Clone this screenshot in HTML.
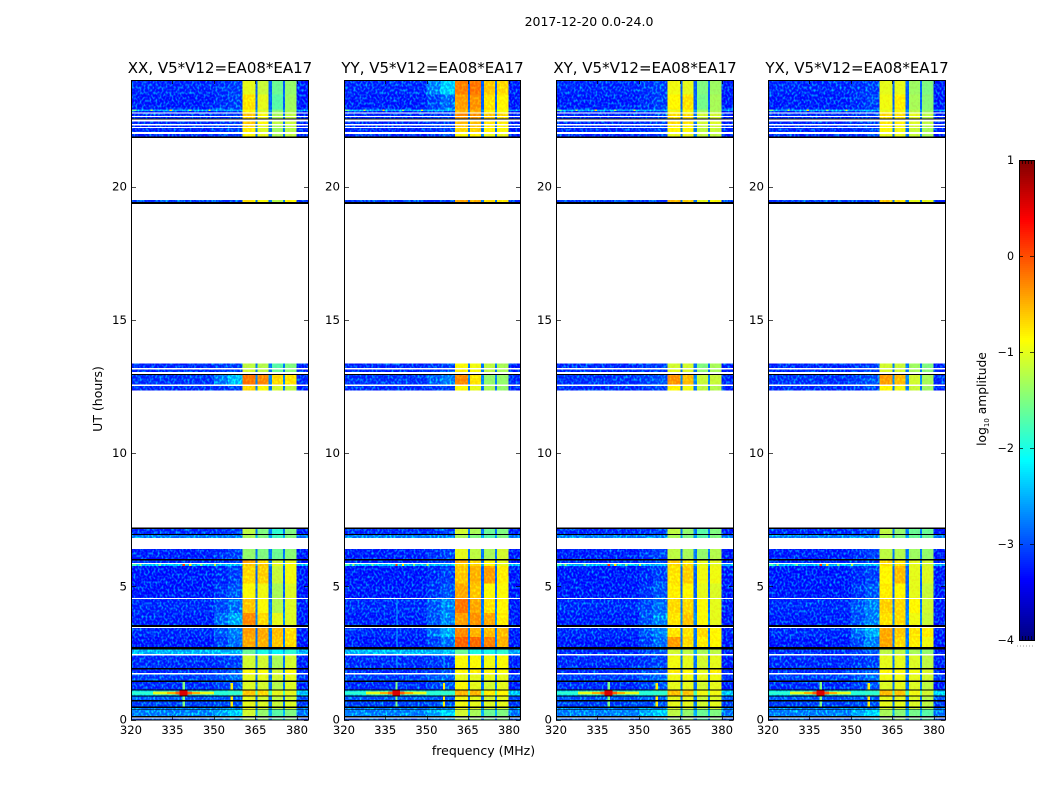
<!DOCTYPE html>
<html>
<head>
<meta charset="utf-8">
<title>2017-12-20 0.0-24.0</title>
<style>
html,body{margin:0;padding:0;background:#fff;}
svg{display:block;font-family:"DejaVu Sans","Liberation Sans",sans-serif;}
</style>
</head>
<body>
<svg id="figure" xmlns="http://www.w3.org/2000/svg" width="1050" height="800" viewBox="0 0 1050 800">
  <defs>
    <filter id="bgNoise" filterUnits="userSpaceOnUse" x="0" y="0" width="1050" height="800" color-interpolation-filters="sRGB">
      <feColorMatrix in="SourceGraphic" type="matrix" values="1 0 0 0 0  0 1 0 0 -0.16  0 0 1 0 0  0 0 0 1 0" result="base"/>
      <feTurbulence type="fractalNoise" baseFrequency="0.5 0.38" numOctaves="1" seed="7" result="turb"/>
      <feColorMatrix in="turb" type="matrix" values="0 0 0 0 0  1.8 0 0 0 -0.78  0 0 0 0 0  0 0 0 0 1" result="speck"/>
      <feComposite in="speck" in2="SourceAlpha" operator="in" result="clipped"/>
      <feComposite in="base" in2="clipped" operator="arithmetic" k1="0" k2="1" k3="1" k4="0"/>
    </filter>
    <filter id="bandNoise" filterUnits="userSpaceOnUse" x="0" y="0" width="1050" height="800" color-interpolation-filters="sRGB">
      <feColorMatrix in="SourceGraphic" type="matrix" values="1 0 0 0 0  0 1 0 0 -0.05  0 0 1 0 0  0 0 0 1 0" result="base"/>
      <feTurbulence type="fractalNoise" baseFrequency="0.5 0.38" numOctaves="1" seed="21" result="turb"/>
      <feColorMatrix in="turb" type="matrix" values="0 0 0 0 0  0.6 0 0 0 -0.25  0 0 0 0 0  0 0 0 0 1" result="speck"/>
      <feComposite in="speck" in2="SourceAlpha" operator="in" result="clipped"/>
      <feComposite in="base" in2="clipped" operator="arithmetic" k1="0" k2="1" k3="1" k4="0"/>
    </filter>
  </defs>
  <text x="589" y="26" font-size="12.5" text-anchor="middle">2017-12-20 0.0-24.0</text>
  <text transform="translate(102,399) rotate(-90)" font-size="12.5" text-anchor="middle">UT (hours)</text>
  <text x="483.5" y="755" font-size="12.5" text-anchor="middle">frequency (MHz)</text>
  <text transform="translate(986,399) rotate(-90)" font-size="12.3" text-anchor="middle">log<tspan font-size="7" dy="3">10</tspan><tspan dy="-3"> amplitude</tspan></text>
</svg>
<script>
// ---- chart data (log10 amplitude levels) ----
const panelTitles = ['XX, V5*V12=EA08*EA17','YY, V5*V12=EA08*EA17','XY, V5*V12=EA08*EA17','YX, V5*V12=EA08*EA17'];
const xTicks = [320,335,350,365,380];
const yTicks = [0,5,10,15,20];
const colorbarTicks = [1,0,-1,-2,-3,-4];
const freqEdges = [320,350,355,360.4,365.1,365.8,369.8,370.9,374.9,375.6,379.9,384];

const utStart = [23.45,22.89,22.83,22.78,22.65,22.55,22.35,22.23,22.05,21.88,19.42,13.20,13.05,12.58,12.34,6.96,6.82,6.02,5.87,5.77,5.10,4.56,4.00,3.54,3.10,2.72,2.46,1.93,1.74,1.46,1.12,0.90,0.73,0.49,0.37,0.13,0.00];
const utEnd   = [24.00,23.45,22.89,22.83,22.74,22.61,22.44,22.29,22.20,21.97,19.50,13.36,13.14,12.92,12.52,7.14,6.92,6.39,5.96,5.83,5.77,5.10,4.52,4.00,3.43,3.10,2.62,2.40,1.87,1.69,1.41,1.09,0.86,0.67,0.43,0.37,0.04];
const bgParallel = [-3.1,-3.15,-2.5,-3.1,-3.1,-3.1,-3.1,-3.1,-3.1,-3.1,-3.0,-3.1,-3.1,-3.05,-3.1,-3.1,-2.7,-3.15,-3.1,-2.4,-3.2,-3.2,-3.1,-3.15,-3.1,-3.2,-2.45,-3.1,-3.1,-3.0,-3.1,-2.3,-2.9,-3.0,-2.7,-2.7,-2.9];
const bgCross    = [-3.1,-3.15,-2.5,-3.1,-3.1,-3.1,-3.1,-3.1,-3.1,-3.1,-3.0,-3.1,-3.1,-3.05,-3.1,-3.1,-2.7,-3.15,-3.1,-2.4,-3.2,-3.2,-3.1,-3.15,-3.1,-3.2,-3.1,-3.1,-3.1,-3.0,-3.1,-2.3,-2.9,-3.0,-2.7,-2.7,-2.9];
const gapLevels = [-2.9,-2.9,-2.6,-2.8,-2.8,-2.8,-2.8,-2.8,-2.8,-2.8,-2.8,-2.8,-2.8,-2.7,-2.8,-2.8,-2.6,-2.8,-2.8,-2.5,-2.9,-2.9,-2.8,-2.7,-2.8,-2.8,-2.5,-2.8,-2.8,-2.8,-2.8,-1.8,-2.8,-2.8,-2.7,-2.5,-2.8];
const panelBg = [bgParallel,bgParallel,bgCross,bgCross];

const levelsXX = [[-3.0,-1.0,-1.15,-1.6,-1.4],[-3.0,-0.75,-1.0,-1.7,-1.35],[-2.5,-0.9,-1.1,-1.5,-1.3],[-3,-0.8,-1,-1.4,-1.3],[-3,-0.6,-0.9,-1.3,-1.2],[-3,-0.7,-0.95,-1.3,-1.2],[-3,-0.6,-0.85,-1.2,-1.15],[-3,-0.7,-1,-1.3,-1.2],[-3,-0.8,-1.05,-1.35,-1.25],[-3,-0.9,-1,-1.3,-1.2],[-3,-0.75,-0.9,-1.25,-0.85],[-3,-1.2,-1.25,-1.7,-1.5],[-3,-1.1,-1.2,-1.6,-1.45],[-2.4,-0.2,-0.3,-0.7,-0.75],[-3,-0.7,-0.9,-1.1,-1.2],[-3,-1.2,-1.5,-1.9,-1.5],[-2.7,-1.3,-1.5,-1.8,-1.5],[-3.0,-1.4,-1.5,-1.6,-1.45],[-3,-0.45,-0.7,-1.1,-1],[-2.4,-0.6,-0.6,-1.0,-0.9],[-3,-0.7,-0.65,-1.15,-0.95],[-2.9,-0.9,-0.95,-1.3,-1.05],[-2.8,-0.6,-0.9,-1.25,-1.05],[-2.5,-0.3,-0.7,-1.0,-1.05],[-2.7,-0.4,-0.45,-0.55,-0.7],[-2.8,-0.45,-0.5,-0.6,-0.7],[-2.4,-1.6,-2.0,-2.1,-1.9],[-3.0,-1.1,-1.1,-1.3,-1.1],[-2.9,-0.9,-0.9,-1.1,-0.9],[-2.8,-1.0,-1.0,-1.1,-1.0],[-2.9,-1.05,-1.1,-1.25,-1.05],[-1.8,-0.6,-0.7,-1.0,-1.0],[-2.9,-1.0,-1.1,-1.2,-1.1],[-2.9,-1,-1.05,-1.15,-1.05],[-2.7,-1.0,-1.1,-1.2,-1.1],[-2.3,-1.1,-1.4,-1.7,-1.5],[-2.5,-1.3,-1.4,-1.7,-1.5]];
const levelsYY = [[-2.3,-0.25,-0.2,-0.6,-0.7],[-2.8,-0.4,-0.35,-0.75,-0.85],[-2.4,-0.5,-0.45,-0.8,-0.9],[-3,-0.5,-0.5,-0.8,-0.9],[-3,-0.3,-0.35,-0.6,-0.7],[-3,-0.4,-0.4,-0.65,-0.75],[-3,-0.55,-0.55,-0.75,-0.8],[-3,-0.6,-0.6,-0.8,-0.85],[-3,-0.7,-0.65,-0.85,-0.9],[-3,-0.9,-0.85,-1,-1],[-3,-0.4,-0.5,-0.75,-0.8],[-3,-0.9,-0.95,-1.2,-1.3],[-3,-0.8,-0.9,-1.2,-1.3],[-2.7,-0.3,-0.75,-1.4,-1.4],[-3,-0.9,-1,-1.3,-1.4],[-3,-1.1,-1.3,-1.6,-1.5],[-2.7,-1.3,-1.5,-1.7,-1.5],[-3,-1,-1.2,-1.3,-1.1],[-3,-0.5,-0.7,-0.9,-1],[-2.4,-0.7,-0.7,-0.9,-1],[-3,-0.6,-0.5,-0.4,-0.8],[-2.9,-0.45,-0.6,-0.9,-0.9],[-2.7,-0.2,-0.45,-0.75,-0.85],[-2.7,-0.4,-0.35,-0.45,-0.8],[-2.5,-0.3,-0.5,-0.55,-0.55],[-2.8,-0.1,-0.15,-0.25,-0.5],[-2.4,-1.6,-2,-2,-1.9],[-3,-0.9,-0.9,-0.95,-0.9],[-2.9,-0.85,-0.8,-0.9,-0.9],[-2.8,-1,-1,-1,-1],[-2.9,-0.9,-1,-1.1,-1],[-1.8,-0.5,-0.5,-0.8,-0.85],[-2.9,-0.95,-1,-1.1,-1],[-2.9,-0.95,-1,-1.05,-1],[-2.7,-1,-1.05,-1.15,-1.1],[-2.3,-1.1,-1.3,-1.6,-1.5],[-2.5,-1.3,-1.4,-1.6,-1.5]];
const levelsXY = [[-3.0,-0.95,-1.0,-1.5,-1.35],[-3.0,-0.85,-0.75,-1.55,-1.3],[-2.5,-1,-0.9,-1.4,-1.3],[-3,-0.9,-0.9,-1.3,-1.25],[-3,-0.7,-0.7,-1.1,-1.1],[-3,-0.75,-0.75,-1.15,-1.1],[-3,-0.7,-0.75,-1.1,-1.05],[-3,-0.8,-0.85,-1.15,-1.1],[-3,-0.85,-0.9,-1.2,-1.15],[-3,-1,-1,-1.2,-1.2],[-3,-0.55,-0.65,-1,-0.9],[-3,-1.1,-1.1,-1.5,-1.3],[-3,-1,-1.05,-1.4,-1.3],[-2.9,-0.35,-0.55,-1.15,-1.15],[-3,-0.85,-0.95,-1.2,-1.25],[-3,-1.2,-1.4,-1.7,-1.5],[-2.7,-1.3,-1.5,-1.7,-1.5],[-3,-1.2,-1.3,-1.4,-1.25],[-3,-0.6,-0.75,-1,-1],[-2.4,-0.7,-0.7,-1,-1],[-3,-0.75,-0.65,-0.95,-0.95],[-2.9,-0.8,-0.85,-1,-1.05],[-2.8,-0.7,-0.7,-0.9,-1],[-2.7,-0.75,-0.6,-0.9,-1],[-2.7,-0.75,-0.75,-0.7,-0.85],[-2.8,-0.4,-0.7,-0.8,-0.85],[-2.9,-1.1,-1.2,-1.3,-1.2],[-3,-0.95,-1,-1.1,-1],[-2.9,-0.8,-0.85,-1,-0.8],[-2.8,-0.95,-0.95,-1,-0.95],[-2.9,-1,-1,-1.1,-1],[-1.8,-0.55,-0.6,-0.95,-0.95],[-2.9,-1,-1,-1.15,-1.05],[-2.9,-1,-1,-1.1,-1],[-2.7,-1.1,-1.1,-1.2,-1.1],[-2.3,-1.2,-1.4,-1.6,-1.5],[-2.5,-1.4,-1.4,-1.7,-1.5]];
const levelsYX = [[-3.0,-1.0,-1.0,-1.35,-1.5],[-3.0,-0.95,-0.8,-1.3,-1.45],[-2.5,-1,-0.95,-1.25,-1.4],[-3,-0.95,-0.9,-1.2,-1.35],[-3,-0.7,-0.7,-1.0,-1.2],[-3,-0.75,-0.8,-1.05,-1.25],[-3,-0.75,-0.8,-1.05,-1.2],[-3,-0.85,-0.9,-1.1,-1.25],[-3,-0.9,-0.95,-1.15,-1.3],[-3,-1,-1,-1.15,-1.3],[-3,-0.6,-0.7,-1,-1],[-3,-1.1,-1.15,-1.35,-1.5],[-3,-1.05,-1.1,-1.3,-1.45],[-2.9,-0.4,-0.55,-1.1,-1.3],[-3,-0.85,-0.95,-1.15,-1.35],[-3,-1.2,-1.4,-1.6,-1.6],[-2.7,-1.3,-1.5,-1.6,-1.6],[-3,-1.2,-1.25,-1.35,-1.4],[-3,-0.65,-0.75,-1,-1.1],[-2.4,-0.75,-0.75,-1,-1.1],[-3,-0.85,-0.55,-1,-1.05],[-2.9,-0.8,-0.85,-1,-1.15],[-2.7,-0.65,-0.7,-0.85,-1.1],[-2.7,-0.75,-0.7,-0.95,-1.15],[-2.5,-0.45,-0.6,-0.75,-0.8],[-2.7,-0.45,-0.7,-0.8,-0.95],[-2.9,-1.2,-1.2,-1.3,-1.4],[-3,-1,-1,-1.05,-1.2],[-2.9,-0.85,-0.9,-0.95,-1.05],[-2.8,-0.95,-0.95,-1,-1.1],[-2.9,-1.05,-1,-1.05,-1.2],[-1.8,-0.55,-0.6,-0.95,-1.1],[-2.9,-1,-1,-1.05,-1.25],[-2.9,-1,-1,-1.05,-1.2],[-2.7,-1.1,-1.1,-1.15,-1.3],[-2.3,-1.3,-1.45,-1.55,-1.7],[-2.5,-1.4,-1.4,-1.6,-1.7]];
const panelLevels = [levelsXX,levelsYY,levelsXY,levelsYX];

// narrow-band interference features (MHz, UT, log10 amplitude)
const rfiFreqStart = [320,328,333,336,337.6,338.7,338.7,356,320,323,330,338.7,341,345,350,320,327,334,341,348,338.7,356];
const rfiFreqEnd   = [360.4,350,345,342,340.4,339.5,339.5,356.8,322,323.8,330.8,339.5,341.8,345.8,350.8,322,327.8,334.8,341.8,348.8,339.5,356.8];
const rfiUtStart   = [0.93,0.94,0.95,0.93,0.91,0.49,1.09,0.49,5.77,5.77,5.77,5.77,5.77,5.77,5.77,22.83,22.83,22.83,22.83,22.83,0.67,1.09];
const rfiUtEnd     = [1.06,1.05,1.04,1.06,1.08,0.86,1.41,0.90,5.83,5.83,5.83,5.83,5.83,5.83,5.83,22.89,22.89,22.89,22.89,22.89,0.73,1.37];
const rfiLevel     = [-1.9,-1.0,-0.5,-0.1,0.55,-1.5,-1.5,-0.8,-1.8,-1.4,-1.6,0.1,-0.8,-1.5,-1.2,-1.6,-1.2,-0.7,-1.4,-1.0,-1.0,-0.8];

// faint vertical lines only visible in the YY panel
const yyLineFreq = [339,356.2];
const yyLineUtStart = [1.93,2.72,3.54];
const yyLineUtEnd = [2.40,3.43,4.52];

// flagged (zero amplitude) integrations drawn black
const blackStart = [22.52,21.82,19.35,12.92,7.14,6.92,5.96,3.47,2.62,1.87,1.41,1.09,0.86,0.67,0.43,0.37,0.07];
const blackEnd   = [22.55,21.88,19.42,12.97,7.20,6.96,6.02,3.54,2.72,1.93,1.46,1.12,0.90,0.73,0.49,0.39,0.13];

// ---- scales ----
const panelLeft = [131,344,556,768];
const panelRight = [308,520,733,945];
const plotTop = 80, plotBottom = 719.5;
function xScale(panel, mhz){ return panelLeft[panel] + (mhz-320)/64*(panelRight[panel]-panelLeft[panel]); }
function yScale(ut){ return plotBottom - ut/24*(plotBottom-plotTop); }
function cbScale(v){ return 160 + (1-v)/5*480; }
function clip01(a){ return Math.max(0,Math.min(1,a)); }
function jet(v){
  const n = clip01((v+4)/5);
  const r = clip01(1.5-Math.abs(4*n-3));
  const g = clip01(1.5-Math.abs(4*n-2));
  const b = clip01(1.5-Math.abs(4*n-1));
  return 'rgb('+Math.round(r*255)+','+Math.round(g*255)+','+Math.round(b*255)+')';
}

const NS = 'http://www.w3.org/2000/svg';
const fig = document.getElementById('figure');
function make(tag, parent, attrs){
  const el = document.createElementNS(NS, tag);
  for (const k in attrs) el.setAttribute(k, attrs[k]);
  parent.appendChild(el);
  return el;
}
function rectBetween(parent, x0, x1, y0, y1, fill){
  const el = make('rect', parent, {x:x0, y:y0, width:x1-x0, height:y1-y0, fill:fill, 'shape-rendering':'crispEdges'});
  return el;
}

panelTitles.forEach(function(title, p){
  const group = make('g', fig, {});
  
  

  const bgGroup = make('g', group, {filter:'url(#bgNoise)'});
  
  
  const bandGroup = make('g', group, {filter:'url(#bandNoise)'});
  
  
  const overGroup = make('g', group, {});
  
  

  const levels = panelLevels[p];
  const bg = panelBg[p];
  utStart.forEach(function(start, r){
    const y0 = yScale(utEnd[r]), y1 = yScale(start);
    const v = levels[r];
    const gap = gapLevels[r];
    const colLevels = [bg[r], (bg[r]+v[0])/2, v[0], v[1], gap, v[2], gap, v[3], gap, v[4], bg[r]-0.05];
    colLevels.forEach(function(level, c){
      const target = (c<=2||c===10) ? bgGroup : bandGroup;
      const cell = rectBetween(target, xScale(p,freqEdges[c]), xScale(p,freqEdges[c+1]), y0, y1, jet(level));
      
      
    });
  });

  rfiLevel.forEach(function(level, i){
    const cell = rectBetween(overGroup, xScale(p,rfiFreqStart[i]), xScale(p,rfiFreqEnd[i]), yScale(rfiUtEnd[i]), yScale(rfiUtStart[i]), jet(level));
    
    
  });

  if (p === 1) {
    yyLineFreq.forEach(function(f){
      yyLineUtStart.forEach(function(start, i){
        const cell = rectBetween(overGroup, xScale(p,f), xScale(p,f+0.4), yScale(yyLineUtEnd[i]), yScale(start), jet(-2.5));
        
        
      });
    });
  }

  blackStart.forEach(function(start, i){
    const row = rectBetween(overGroup, xScale(p,320), xScale(p,384), yScale(blackEnd[i]), yScale(start), '#000');
    
    
  });

  // frame
  const L = panelLeft[p], R = panelRight[p];
  const frame = make('rect', group, {x:L+0.5, y:plotTop+0.5, width:R-L, height:plotBottom-plotTop, fill:'none', stroke:'#000', 'stroke-width':1});
  
  

  // x ticks
  xTicks.forEach(function(t){
    const x = Math.round(xScale(p,t)) + 0.5;
    const b = make('line', group, {x1:x, x2:x, y1:plotBottom, y2:plotBottom-4, stroke:'#000', 'stroke-width':0.7});
    
    
    const u = make('line', group, {x1:x, x2:x, y1:plotTop, y2:plotTop+4, stroke:'#000', 'stroke-width':0.7});
    
    
    const label = make('text', group, {x:xScale(p,t), y:plotBottom+14.5, 'font-size':11.6, 'text-anchor':'middle'});
    
    
    label.textContent = String(t);
  });

  // y ticks
  yTicks.forEach(function(t){
    const y = Math.round(yScale(t)) + 0.5;
    const a = make('line', group, {x1:L, x2:L+5, y1:y, y2:y, stroke:'#000', 'stroke-width':0.7});
    
    
    const c = make('line', group, {x1:R, x2:R-4, y1:y, y2:y, stroke:'#000', 'stroke-width':0.7});
    
    
    const label = make('text', group, {x:L-4, y:yScale(t)+4, 'font-size':11.8, 'text-anchor':'end'});
    
    
    label.textContent = String(t);
  });

  const tt = make('text', group, {x:(L+R)/2+0.5, y:73, 'font-size':15, 'text-anchor':'middle'});
  
  
  tt.textContent = title;
});

// ---- colorbar ----
const cb = make('g', fig, {});


for (let y = 160; y < 640; y += 2){
  const level = 1 - (y+1-160)/480*5;
  const seg = rectBetween(cb, 1019, 1034, y, y+2, jet(level));
  
  
}
const cbFrame = make('rect', cb, {x:1019.5, y:160.5, width:15, height:480, fill:'none', stroke:'#000', 'stroke-width':1});


colorbarTicks.forEach(function(t){
  const y = Math.round(cbScale(t)) + 0.5;
  const a = make('line', cb, {x1:1019, x2:1023, y1:y, y2:y, stroke:'#000', 'stroke-width':0.7});
  
  
  const b = make('line', cb, {x1:1034, x2:1030, y1:y, y2:y, stroke:'#000', 'stroke-width':0.7});
  
  
  const label = make('text', cb, {x:1014, y:cbScale(t)+4, 'font-size':11.1, 'text-anchor':'end'});
  
  
  label.textContent = t < 0 ? '\u2212' + Math.abs(t) : String(t);
});
[1022,1025,1028,1031].forEach(function(x){
  const top = make('line', cb, {x1:x+0.5, x2:x+0.5, y1:160, y2:164, stroke:'#000', 'stroke-width':0.7});
  
  
  const bot = make('line', cb, {x1:x+0.5, x2:x+0.5, y1:636, y2:640, stroke:'#000', 'stroke-width':0.7});
  
  
});
const dots = make('line', cb, {x1:1017, x2:1034, y1:646, y2:646, stroke:'#999', 'stroke-width':1, 'stroke-dasharray':'1 2'});


</script>
</body>
</html>
